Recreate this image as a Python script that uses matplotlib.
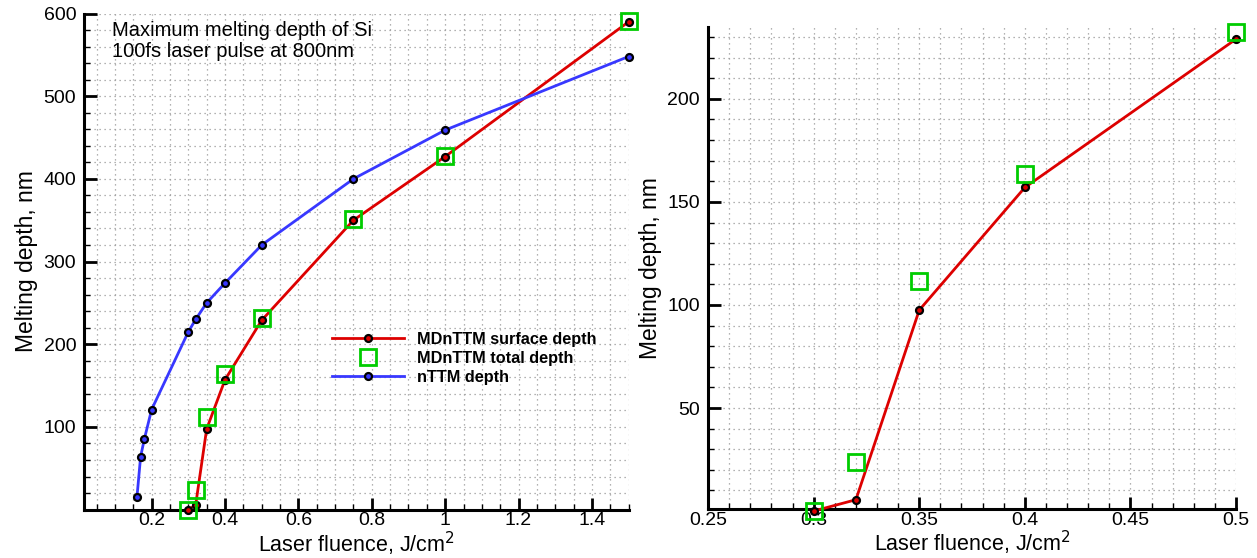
import matplotlib
matplotlib.use("Agg")
import matplotlib.pyplot as plt
from matplotlib.ticker import MultipleLocator, FuncFormatter

plt.rcParams['font.family'] = ['Liberation Sans', 'DejaVu Sans']

# nTTM depth (blue)
ttm_x = [0.16, 0.17, 0.18, 0.2, 0.3, 0.32, 0.35, 0.4, 0.5, 0.75, 1.0, 1.5]
ttm_y = [15, 64, 85, 121, 215, 230, 250, 274, 320, 400, 459, 548]

# MDnTTM surface depth (red) and total depth (green squares)
md_x = [0.3, 0.32, 0.35, 0.4, 0.5, 0.75, 1.0, 1.5]
md_surf = [0, 5.5, 97.5, 157, 229, 350, 427, 590]
md_total = [0, 24, 111.5, 163.7, 232.3, 351.5, 428, 590.5]

# zoomed panel uses the first points only
zoom_n = 5

RED = '#dd0000'
BLUE = '#3838ff'
GREEN = '#00cc00'


def fmt(v, pos):
    s = '%g' % v
    return s


def style_axes(ax):
    for side in ['top', 'right']:
        ax.spines[side].set_visible(False)
    for side in ['left', 'bottom']:
        ax.spines[side].set_linewidth(2.2)
    ax.tick_params(which='major', direction='in', length=9, width=2,
                   labelsize=14, pad=6)
    ax.tick_params(axis='x', which='major', pad=2)
    ax.tick_params(which='minor', direction='in', length=4.5, width=1)
    ax.grid(which='both', color='#999999', linestyle=(0, (1, 3)), linewidth=0.9)
    ax.set_axisbelow(True)
    ax.xaxis.set_major_formatter(FuncFormatter(fmt))


fig = plt.figure(figsize=(12.57, 5.58), dpi=100)

# left panel
ax1 = fig.add_axes([0.0672, 0.0867, 0.4329, 0.8891])
style_axes(ax1)
ax1.plot(md_x, md_surf, color=RED, lw=2, marker='o', ms=5, mfc=RED,
         mec='black', mew=1.6, label='MDnTTM surface depth', clip_on=False, zorder=3)
ax1.plot(md_x, md_total, ls='none', marker='s', ms=12, mfc='none',
         mec=GREEN, mew=2, label='MDnTTM total depth', clip_on=False, zorder=4)
ax1.plot(ttm_x, ttm_y, color=BLUE, lw=2, marker='o', ms=5, mfc=BLUE,
         mec='black', mew=1.6, label='nTTM depth', clip_on=False, zorder=3)
ax1.set_xlim(0.017, 1.5)
ax1.set_ylim(0, 600)
ax1.xaxis.set_minor_locator(MultipleLocator(0.05))
ax1.yaxis.set_minor_locator(MultipleLocator(20))
ax1.set_yticks([100, 200, 300, 400, 500, 600])
ax1.set_xticks([0.2, 0.4, 0.6, 0.8, 1.0, 1.2, 1.4])
ax1.set_xlabel('Laser fluence, J/cm$^2$', fontsize=15.5, labelpad=0)
ax1.set_ylabel('Melting depth, nm', fontsize=16.5, labelpad=4)
ax1.text(0.05, 0.985, 'Maximum melting depth of Si\n100fs laser pulse at 800nm',
         transform=ax1.transAxes, fontsize=14.5, va='top', ha='left',
         linespacing=1.12)
ax1.legend(loc='upper left', bbox_to_anchor=(0.443, 0.371), frameon=False,
           prop={'weight': 'bold', 'size': 11.7}, handlelength=4.4,
           handletextpad=0.85, labelspacing=0.25, borderaxespad=0)

# right panel (zoom on the threshold region)
ax2 = fig.add_axes([0.5633, 0.0878, 0.42, 0.8643])
style_axes(ax2)
ax2.plot(md_x[:zoom_n], md_surf[:zoom_n], color=RED, lw=2, marker='o', ms=5,
         mfc=RED, mec='black', mew=1.6, clip_on=False, zorder=3)
ax2.plot(md_x[:zoom_n], md_total[:zoom_n], ls='none', marker='s', ms=12,
         mfc='none', mec=GREEN, mew=2, clip_on=False, zorder=4)
ax2.set_xlim(0.25, 0.5)
ax2.set_ylim(1, 235)
ax2.xaxis.set_major_locator(MultipleLocator(0.05))
ax2.xaxis.set_minor_locator(MultipleLocator(0.01))
ax2.yaxis.set_major_locator(MultipleLocator(50))
ax2.yaxis.set_minor_locator(MultipleLocator(10))
ax2.set_xlabel('Laser fluence, J/cm$^2$', fontsize=15.5, labelpad=0)
ax2.set_ylabel('Melting depth, nm', fontsize=16.5, labelpad=4)

fig.savefig('out.png', dpi=100)
